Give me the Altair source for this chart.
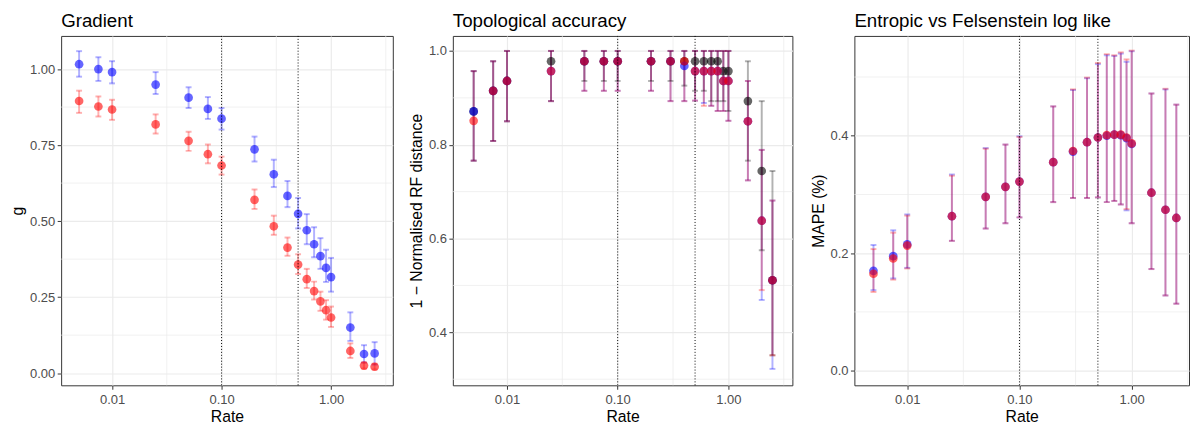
import altair as alt
import pandas as pd

RATES = [0.005, 0.0075, 0.01, 0.025, 0.05, 0.075, 0.1, 0.2, 0.3, 0.4, 0.5,
         0.6, 0.7, 0.8, 0.9, 1.0, 1.5, 2.0, 2.5]

# Panel 1: Gradient
G_BLUE = [1.016, 1.000, 0.990, 0.949, 0.906, 0.869, 0.837, 0.736, 0.654, 0.583, 0.524,
          0.470, 0.424, 0.385, 0.346, 0.316, 0.150, 0.063, 0.065]
G_BLUE_HI = [1.059, 1.039, 1.026, 0.990, 0.940, 0.908, 0.872, 0.778, 0.702, 0.632, 0.576,
             0.523, 0.480, 0.444, 0.406, 0.379, 0.200, 0.092, 0.102]
G_BLUE_LO = [0.975, 0.961, 0.953, 0.918, 0.872, 0.836, 0.801, 0.696, 0.612, 0.546, 0.476,
             0.424, 0.381, 0.343, 0.300, 0.268, 0.106, 0.035, 0.028]
G_RED = [0.895, 0.877, 0.867, 0.818, 0.764, 0.720, 0.683, 0.570, 0.483, 0.413, 0.357,
         0.309, 0.270, 0.236, 0.207, 0.183, 0.073, 0.025, 0.021]
G_RED_HI = [0.929, 0.910, 0.899, 0.851, 0.794, 0.752, 0.712, 0.604, 0.518, 0.446, 0.391,
            0.343, 0.301, 0.268, 0.240, 0.219, 0.098, 0.035, 0.031]
G_RED_LO = [0.856, 0.844, 0.833, 0.788, 0.731, 0.690, 0.653, 0.540, 0.455, 0.386, 0.326,
            0.280, 0.242, 0.205, 0.176, 0.152, 0.050, 0.015, 0.012]

# Panel 2: Topological accuracy
T_BLACK = [0.871, 0.915, 0.936, 0.978, 0.978, 0.978, 0.978, 0.978, 0.978, 0.978, 0.978,
           0.978, 0.978, 0.978, 0.957, 0.957, 0.893, 0.744, 0.511]
T_BLACK_HI = [0.957, 0.978, 1.0, 1.0, 1.0, 1.0, 1.0, 1.0, 1.0, 1.0, 1.0,
              1.0, 1.0, 1.0, 1.0, 1.0, 0.978, 0.893, 0.744]
T_BLACK_LO = [0.766, 0.808, 0.850, 0.893, 0.936, 0.936, 0.936, 0.936, 0.936, 0.926, 0.915,
              0.915, 0.893, 0.893, 0.893, 0.872, 0.766, 0.575, 0.351]
T_BLUE = [0.871, 0.915, 0.936, 0.957, 0.978, 0.978, 0.978, 0.978, 0.978, 0.968, 0.957,
          0.957, 0.957, 0.957, 0.936, 0.936, 0.850, 0.638, 0.511]
T_BLUE_HI = [0.957, 0.978, 1.0, 1.0, 1.0, 1.0, 1.0, 1.0, 1.0, 1.0, 1.0,
             1.0, 1.0, 1.0, 1.0, 1.0, 0.936, 0.789, 0.681]
T_BLUE_LO = [0.766, 0.808, 0.850, 0.893, 0.915, 0.915, 0.915, 0.915, 0.893, 0.893, 0.894,
             0.889, 0.883, 0.872, 0.872, 0.851, 0.724, 0.469, 0.322]
T_RED = [0.851, 0.915, 0.936, 0.957, 0.978, 0.978, 0.978, 0.978, 0.978, 0.978, 0.957,
         0.957, 0.957, 0.957, 0.936, 0.936, 0.850, 0.638, 0.511]
T_RED_HI = [0.957, 0.978, 1.0, 1.0, 1.0, 1.0, 1.0, 1.0, 1.0, 1.0, 1.0,
            1.0, 1.0, 1.0, 1.0, 1.0, 0.936, 0.789, 0.681]
T_RED_LO = [0.766, 0.808, 0.850, 0.893, 0.915, 0.915, 0.915, 0.915, 0.893, 0.893, 0.894,
            0.883, 0.883, 0.872, 0.872, 0.851, 0.724, 0.490, 0.351]

# Panel 3: Entropic vs Felsenstein log like
M_BLUE = [0.170, 0.195, 0.215, 0.263, 0.296, 0.313, 0.322, 0.355, 0.373, 0.389, 0.397,
          0.400, 0.402, 0.401, 0.396, 0.386, 0.303, 0.274, 0.260]
M_BLUE_HI = [0.214, 0.239, 0.266, 0.334, 0.379, 0.385, 0.399, 0.450, 0.478, 0.498, 0.522,
             0.537, 0.536, 0.540, 0.526, 0.544, 0.472, 0.479, 0.453]
M_BLUE_LO = [0.137, 0.157, 0.175, 0.221, 0.242, 0.251, 0.261, 0.287, 0.294, 0.294, 0.295,
             0.287, 0.289, 0.283, 0.273, 0.251, 0.173, 0.128, 0.114]
M_RED = [0.165, 0.191, 0.213, 0.263, 0.296, 0.313, 0.322, 0.355, 0.374, 0.389, 0.397,
         0.401, 0.402, 0.402, 0.397, 0.387, 0.303, 0.274, 0.260]
M_RED_HI = [0.207, 0.235, 0.264, 0.332, 0.378, 0.385, 0.398, 0.450, 0.479, 0.499, 0.524,
            0.539, 0.537, 0.542, 0.530, 0.545, 0.472, 0.480, 0.453]
M_RED_LO = [0.134, 0.155, 0.174, 0.221, 0.242, 0.251, 0.261, 0.287, 0.294, 0.294, 0.295,
            0.287, 0.289, 0.283, 0.275, 0.251, 0.173, 0.128, 0.114]

SERIES = ["black", "blue", "red"]
COLORS = ["#000000", "#0000FF", "#FF0000"]
X_TICKS = [0.01, 0.1, 1.0]
X_MINOR = [10 ** -1.5, 10 ** -0.5, 10 ** 0.5]
V_LINES = [0.1, 0.5]

FONT = "Liberation Sans"


def long_df(series):
    rows = []
    for name, (ys, lo, hi) in series.items():
        for r, y, l, h in zip(RATES, ys, lo, hi):
            rows.append({"rate": r, "y": y, "lo": l, "hi": h,
                         "series": name, "rank": SERIES.index(name)})
    return pd.DataFrame(rows)


def panel(df, title, ytitle, xdom, ydom, yvals, yfmt, yminor, width):
    xscale = alt.Scale(type="log", domain=xdom, nice=False)
    yscale = alt.Scale(domain=ydom, nice=False, zero=False)
    xaxis = alt.Axis(title="Rate", values=X_TICKS, format=".2f",
                     labelPadding=4.5, titlePadding=3)
    yaxis = alt.Axis(title=ytitle, values=yvals, format=yfmt)

    def X(f):
        return alt.X(f"{f}:Q", scale=xscale, axis=xaxis)

    def Y(f):
        return alt.Y(f"{f}:Q", scale=yscale, axis=yaxis)

    color = alt.Color("series:N", scale=alt.Scale(domain=SERIES, range=COLORS), legend=None)
    order = alt.Order("rank:Q")

    hminor = alt.Chart(pd.DataFrame({"y": yminor})).mark_rule(
        color="#EBEBEB", strokeWidth=0.7).encode(y=Y("y"))
    vminor = alt.Chart(pd.DataFrame({"rate": X_MINOR})).mark_rule(
        color="#EBEBEB", strokeWidth=0.7).encode(x=X("rate"))
    base = alt.Chart(df)
    bars = base.mark_rule(strokeWidth=2, opacity=0.3).encode(
        x=X("rate"), y=Y("lo"), y2="hi", color=color, order=order)
    cap_lo = base.mark_tick(orient="horizontal", size=6, thickness=2, opacity=0.3).encode(
        x=X("rate"), y=Y("lo"), color=color, order=order)
    cap_hi = base.mark_tick(orient="horizontal", size=6, thickness=2, opacity=0.3).encode(
        x=X("rate"), y=Y("hi"), color=color, order=order)
    pts = base.mark_circle(size=78, opacity=0.6).encode(
        x=X("rate"), y=Y("y"), color=color, order=order)
    vlines = alt.Chart(pd.DataFrame({"rate": V_LINES})).mark_rule(
        color="#000000", strokeDash=[1, 2], strokeWidth=1).encode(x=X("rate"))

    return alt.layer(hminor, vminor, bars, cap_lo, cap_hi, pts, vlines).properties(
        width=width, height=355,
        title=alt.TitleParams(text=title, anchor="start", frame="group", fontSize=19,
                              font=FONT, fontWeight="normal", color="black", offset=5),
    )


df1 = long_df({"blue": (G_BLUE, G_BLUE_LO, G_BLUE_HI), "red": (G_RED, G_RED_LO, G_RED_HI)})
df2 = long_df({"black": (T_BLACK, T_BLACK_LO, T_BLACK_HI),
               "blue": (T_BLUE, T_BLUE_LO, T_BLUE_HI), "red": (T_RED, T_RED_LO, T_RED_HI)})
df3 = long_df({"blue": (M_BLUE, M_BLUE_LO, M_BLUE_HI), "red": (M_RED, M_RED_LO, M_RED_HI)})

p1 = panel(df1, "Gradient", "g", [10 ** -2.465, 10 ** 0.564], [-0.040, 1.109],
           [0, 0.25, 0.5, 0.75, 1.0], ".2f", [0.125, 0.375, 0.625, 0.875], 337)
p2 = panel(df2, "Topological accuracy", "1 \u2212 Normalised RF distance",
           [10 ** -2.489, 10 ** 0.578], [0.287, 1.032],
           [0.4, 0.6, 0.8, 1.0], ".1f", [0.3, 0.5, 0.7, 0.9], 345)
p3 = panel(df3, "Entropic vs Felsenstein log like", "MAPE (%)",
           [10 ** -2.471, 10 ** 0.511], [-0.025, 0.570],
           [0.0, 0.2, 0.4], ".1f", [0.1, 0.3, 0.5], 340)

inner = alt.hconcat(p1, p2, spacing=14)
chart = alt.hconcat(inner, p3, spacing=16).properties(
    padding={"left": 1, "right": 0, "top": 0, "bottom": 0}
).configure_view(
    stroke="#333333", strokeWidth=1
).configure_axis(
    grid=True, gridColor="#EBEBEB", gridWidth=1.2, domain=False,
    tickColor="#333333", tickSize=4, tickWidth=1,
    labelColor="#4D4D4D", labelFont=FONT, labelFontSize=13.2, labelPadding=2.5,
    titleFont=FONT, titleFontSize=16, titleFontWeight="normal", titleColor="black",
    titlePadding=4,
)

chart.save("out.html", embed_options={"renderer": "svg", "actions": False})
